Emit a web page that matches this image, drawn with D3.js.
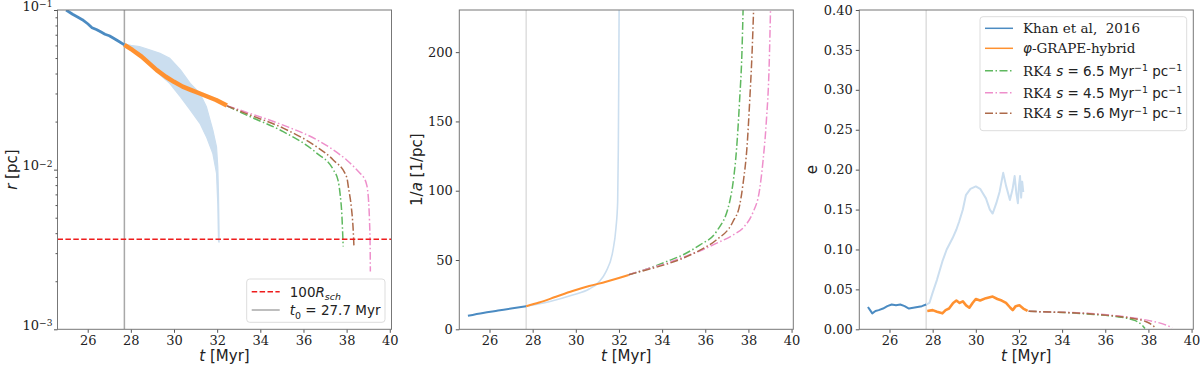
<!DOCTYPE html>
<html>
<head>
<meta charset="utf-8">
<script src="https://cdn.jsdelivr.net/npm/d3@7"></script>
<style>
  body { margin: 0; background: #fff; }
  svg { display: block; }
</style>
</head>
<body>
<svg width="1200" height="370"></svg>
<script>
// time ticks shared by all panels
const tTicks = [26, 28, 30, 32, 34, 36, 38, 40];
const t0 = 27.7;

// ---- panel 1: r [pc] ----
const rKhan = [[25.0,0.100],[25.3,0.094],[25.55,0.090],[25.75,0.087],[26.0,0.082],[26.2,0.0775],[26.4,0.0755],[26.6,0.073],[26.8,0.0705],[27.0,0.069],[27.2,0.0665],[27.45,0.0635],[27.7,0.0605]];
const rKhanBand = [ // t, lower, upper
  [27.7,0.0590,0.0612],[28.0,0.0560,0.0600],[28.4,0.0522,0.0589],[28.9,0.0452,0.0562],[29.35,0.0392,0.0535],
  [29.8,0.0347,0.0498],[30.3,0.0286,0.0421],[30.75,0.0237,0.0347],[31.2,0.0195,0.0301],[31.5,0.0161,0.0248],
  [31.8,0.0126,0.0177],[31.97,0.0095,0.0139],[32.03,0.0060,0.0104],[32.06,0.0036,0.0072],[32.09,0.0035,0.0040]];
const rGrape = [[27.7,0.0605],[28.07,0.0562],[28.5,0.0510],[28.85,0.0463],[29.2,0.0420],[29.62,0.0382],[30.0,0.0355],[30.4,0.0331],[30.8,0.0315],[31.17,0.0301],[31.6,0.0285],[31.95,0.0273],[32.45,0.0252]];
const rRK65 = [[32.45,0.0251],[33.52,0.0215],[35.06,0.0173],[36.61,0.0127],[37.38,0.0100],[37.6,0.0086],[37.7,0.0070],[37.78,0.0052],[37.84,0.0033]];
const rRK56 = [[32.45,0.0251],[33.52,0.0220],[35.06,0.0182],[36.61,0.0139],[37.38,0.0115],[38.0,0.0090],[38.1,0.0075],[38.22,0.0058],[38.3,0.0043],[38.34,0.0033]];
const rRK45 = [[32.45,0.0251],[33.52,0.0225],[35.06,0.0190],[36.61,0.0154],[37.38,0.0133],[38.0,0.0115],[38.62,0.0095],[38.8,0.0089],[38.9,0.0083],[38.97,0.0075],[39.02,0.0063],[39.06,0.0048],[39.09,0.0033],[39.1,0.0023]];
const rSch = 0.00366;
const rTicks = [1e-3, 1e-2, 1e-1];

// ---- panel 2: 1/a [1/pc] ----
const invKhan = [[25.0,9.8],[25.7,11.8],[26.4,13.5],[27.0,15.0],[27.7,16.6]];
const invKhanLight = [[27.7,16.6],[28.76,19.9],[29.85,24.7],[30.62,29.1],[31.09,34.4],[31.4,41.6],[31.71,56],[31.86,72.9],[31.94,92],[31.97,130],[31.99,180],[32.01,240]];
const invGrape = [[27.7,16.6],[28.3,19.3],[29.08,23.5],[29.85,27.6],[30.62,31.2],[31.4,34.3],[32.45,39.2]];
const invRK65 = [[32.45,39.4],[33.3,43.5],[34.19,48.8],[35.0,54],[35.74,60.8],[36.51,70.4],[37.13,92],[37.28,105],[37.45,130],[37.59,165],[37.7,200],[37.76,235]];
const invRK56 = [[32.45,39.4],[33.3,43],[34.19,46.9],[35.0,51.5],[35.74,57],[36.51,64.4],[37.28,77.6],[37.6,90],[37.75,105],[37.95,135],[38.06,165],[38.17,200],[38.25,235]];
const invRK45 = [[32.45,39.4],[33.41,44],[34.19,47.5],[34.96,52],[35.74,56.5],[36.51,62],[37.28,68],[37.8,74],[38.2,84],[38.52,101],[38.68,122],[38.83,150],[38.96,190],[39.03,235]];
const invTicks = [0, 50, 100, 150, 200];

// ---- panel 3: e ----
const eKhan = [[25.0,0.028],[25.1,0.024],[25.2,0.020],[25.35,0.023],[25.5,0.024],[25.7,0.026],[25.9,0.029],[26.1,0.031],[26.3,0.030],[26.5,0.031],[26.7,0.029],[26.9,0.026],[27.1,0.027],[27.3,0.028],[27.5,0.029],[27.7,0.031]];
const eKhanLight = [[27.7,0.031],[27.85,0.033],[28.0,0.046],[28.2,0.062],[28.45,0.085],[28.65,0.100],[28.92,0.114],[29.1,0.125],[29.23,0.135],[29.4,0.150],[29.54,0.168],[29.75,0.176],[30.0,0.179],[30.2,0.176],[30.47,0.164],[30.65,0.150],[30.78,0.145],[30.95,0.158],[31.1,0.172],[31.27,0.196],[31.4,0.180],[31.58,0.162],[31.7,0.175],[31.8,0.192],[31.88,0.170],[31.95,0.158],[32.0,0.180],[32.05,0.192],[32.1,0.165],[32.15,0.185],[32.2,0.172]];
const eGrape = [[27.75,0.023],[28.0,0.024],[28.2,0.022],[28.45,0.020],[28.6,0.024],[28.76,0.026],[28.95,0.033],[29.1,0.036],[29.25,0.033],[29.4,0.035],[29.55,0.030],[29.7,0.027],[29.85,0.033],[30.0,0.038],[30.2,0.036],[30.47,0.039],[30.78,0.041],[31.0,0.038],[31.2,0.036],[31.4,0.033],[31.6,0.027],[31.71,0.024],[31.85,0.029],[32.02,0.030],[32.2,0.026],[32.4,0.023]];
const eRK65 = [[32.45,0.0225],[33.5,0.0215],[34.5,0.0205],[35.5,0.0185],[36.5,0.016],[37.2,0.0125],[37.5,0.0095],[37.7,0.0055],[37.84,0.001]];
const eRK56 = [[32.45,0.0225],[33.5,0.0216],[34.5,0.0207],[35.5,0.019],[36.5,0.0165],[37.3,0.0135],[37.9,0.0095],[38.15,0.006],[38.3,0.0025]];
const eRK45 = [[32.45,0.0225],[33.5,0.0217],[34.5,0.0209],[35.5,0.0195],[36.5,0.017],[37.5,0.0135],[38.2,0.010],[38.7,0.0065],[39.1,0.002]];
const eTicks = [0, 0.05, 0.10, 0.15, 0.20, 0.25, 0.30, 0.35, 0.40];

const C = {
  khan: "#4b8bc2", light: "#cbdeef", grape: "#ff9130",
  g: "#5fb85f", p: "#ee8fcb", b: "#ad6a4a", red: "#ee1c1c"
};
const dashDot = "8,2.5,1.5,2.5";
const SERIF = "DejaVu Serif", SANS = "DejaVu Sans";

const svg = d3.select("svg");
const W = 334, TOP = 10, H = 319.3;
const tDomain = [24.6, 40.08];

// draws text made of parts (italic, sup, sub, font)
function rich(sel, parts, supShift = 4.5) {
  let shift = 0;
  sel.attr("xml:space", "preserve").style("white-space", "pre");
  parts.forEach(p => {
    const s = p.sup ? -supShift : (p.sub ? 3.5 : 0);
    const ts = sel.append("tspan").text(p.t).attr("dy", s - shift);
    shift = s;
    ts.attr("font-family", p.f || SANS);
    if (p.i) ts.attr("font-style", "italic");
    if (p.sup || p.sub) ts.attr("font-size", "0.7em");
  });
}

function makePanel(left, id, y) {
  const g = svg.append("g").attr("transform", `translate(${left},${TOP})`);
  const x = d3.scaleLinear().domain(tDomain).range([0, W]);
  g.append("clipPath").attr("id", id).append("rect").attr("width", W).attr("height", H);
  const plot = g.append("g").attr("clip-path", `url(#${id})`);

  const xa = g.append("g").attr("transform", `translate(0,${H})`)
    .call(d3.axisBottom(x).tickValues(tTicks).tickSize(3.5).tickPadding(3).tickFormat(d3.format("d")));
  xa.select(".domain").remove();
  xa.selectAll("text").attr("font-family", SERIF).attr("font-size", 13).attr("fill", "#222");
  xa.selectAll("line").attr("stroke", "#555");

  g.append("rect").attr("width", W).attr("height", H)
    .attr("fill", "none").attr("stroke", "#777").attr("stroke-width", 1);

  const line = d3.line().x(d => x(d[0])).y(d => y(d[1]));
  const smooth = d3.line().curve(d3.curveMonotoneX).x(d => x(d[0])).y(d => y(d[1]));
  return { g, plot, x, line, smooth };
}

function series(P, data, color, width, dash, smooth) {
  P.plot.append("path").datum(data).attr("d", smooth ? P.smooth : P.line)
    .attr("fill", "none").attr("stroke", color).attr("stroke-width", width)
    .attr("stroke-linejoin", "round")
    .attr("stroke-dasharray", dash || null);
}

function vline(P, color) {
  P.plot.append("line").attr("x1", P.x(t0)).attr("x2", P.x(t0))
    .attr("y1", 0).attr("y2", H).attr("stroke", color).attr("stroke-width", 1.5);
}

function xLabel(P) {
  const t = P.g.append("text").attr("x", W / 2).attr("y", H + 32)
    .attr("text-anchor", "middle").attr("font-size", 15).attr("fill", "#222");
  rich(t, [{ t: "t", i: true }, { t: " [Myr]" }]);
}

function yLabel(P, dx, parts) {
  const t = P.g.append("text").attr("transform", `translate(${dx},${H / 2}) rotate(-90)`)
    .attr("text-anchor", "middle").attr("font-size", 15).attr("fill", "#222");
  rich(t, parts);
}

// ===== panel 1 =====
const y1 = d3.scaleLog().domain([1e-3, 1e-1]).range([H, 0]);
const P1 = makePanel(57.5, "c1", y1);
vline(P1, "#a8a8a8");
P1.plot.append("path").datum(rKhanBand)
  .attr("d", d3.area().x(d => P1.x(d[0])).y0(d => y1(d[1])).y1(d => y1(d[2])))
  .attr("fill", C.light).attr("stroke", C.light).attr("stroke-width", 1.2);
series(P1, rKhan, C.khan, 2.8);
series(P1, rGrape, C.grape, 4.5);
series(P1, rRK65, C.g, 1.5, dashDot, true);
series(P1, rRK45, C.p, 1.5, dashDot, true);
series(P1, rRK56, C.b, 1.5, dashDot, true);
P1.plot.append("line").attr("x1", 0).attr("x2", W).attr("y1", y1(rSch)).attr("y2", y1(rSch))
  .attr("stroke", C.red).attr("stroke-width", 1.5).attr("stroke-dasharray", "5.5,2.4");

const ya1 = P1.g.append("g").call(d3.axisLeft(y1).tickValues(rTicks).tickSize(3.5).tickPadding(3).tickFormat(""));
ya1.select(".domain").remove();
ya1.selectAll("line").attr("stroke", "#555");
ya1.selectAll(".tick").each(function (d) {
  const t = d3.select(this).append("text").attr("x", -5).attr("dy", "0.42em")
    .attr("text-anchor", "end").attr("font-size", 13).attr("fill", "#222");
  rich(t, [{ t: "10", f: SERIF }, { t: "\u2212" + Math.round(-Math.log10(d)), sup: true, f: SERIF }], 3.5);
});
const minors = [];
[1e-3, 1e-2].forEach(b => { for (let k = 2; k <= 9; k++) minors.push(b * k); });
const ym1 = P1.g.append("g").call(d3.axisLeft(y1).tickValues(minors).tickSize(2).tickFormat(""));
ym1.select(".domain").remove();
ym1.selectAll("line").attr("stroke", "#555");
xLabel(P1);
yLabel(P1, -40.5, [{ t: "r", i: true }, { t: " [pc]" }]);

// legend panel 1
const L1 = P1.g.append("g").attr("transform", `translate(${246.7 - 57.5},${279 - TOP})`);
L1.append("rect").attr("width", 138.3).attr("height", 43.3).attr("rx", 3)
  .attr("fill", "#fff").attr("fill-opacity", 0.85).attr("stroke", "#ddd");
L1.append("line").attr("x1", 5).attr("x2", 33).attr("y1", 12.7).attr("y2", 12.7)
  .attr("stroke", C.red).attr("stroke-width", 1.5).attr("stroke-dasharray", "5.5,2.4");
L1.append("line").attr("x1", 5).attr("x2", 33).attr("y1", 31).attr("y2", 31)
  .attr("stroke", "#a8a8a8").attr("stroke-width", 1.5);
rich(L1.append("text").attr("x", 43).attr("y", 17.5).attr("font-size", 13.5).attr("fill", "#222"),
  [{ t: "100" }, { t: "R", i: true }, { t: "sch", i: true, sub: true }]);
rich(L1.append("text").attr("x", 43).attr("y", 36).attr("font-size", 13.5).attr("fill", "#222"),
  [{ t: "t", i: true }, { t: "0", sub: true }, { t: " = 27.7 Myr" }]);

// ===== panel 2 =====
const y2 = d3.scaleLinear().domain([0, 230.4]).range([H, 0]);
const P2 = makePanel(459.3, "c2", y2);
vline(P2, "#dedede");
series(P2, invKhanLight, C.light, 1.6, null, true);
series(P2, invKhan, C.khan, 2, null, true);
series(P2, invGrape, C.grape, 2, null, true);
series(P2, invRK65, C.g, 1.5, dashDot, true);
series(P2, invRK45, C.p, 1.5, dashDot, true);
series(P2, invRK56, C.b, 1.5, dashDot, true);
const ya2 = P2.g.append("g").call(d3.axisLeft(y2).tickValues(invTicks).tickSize(3.5).tickPadding(3).tickFormat(d3.format("d")));
ya2.select(".domain").remove();
ya2.selectAll("line").attr("stroke", "#555");
ya2.selectAll("text").attr("font-family", SERIF).attr("font-size", 13).attr("fill", "#222");
xLabel(P2);
yLabel(P2, -37, [{ t: "1/" }, { t: "a", i: true }, { t: " [1/pc]" }]);

// ===== panel 3 =====
const y3 = d3.scaleLinear().domain([0, 0.4]).range([H, 0]);
const P3 = makePanel(859.3, "c3", y3);
vline(P3, "#dedede");
series(P3, eKhanLight, C.light, 2);
series(P3, eKhan, C.khan, 2);
series(P3, eGrape, C.grape, 2.6);
series(P3, eRK65, C.g, 1.5, dashDot, true);
series(P3, eRK45, C.p, 1.5, dashDot, true);
series(P3, eRK56, C.b, 1.5, dashDot, true);
const ya3 = P3.g.append("g").call(d3.axisLeft(y3).tickValues(eTicks).tickSize(3.5).tickPadding(3).tickFormat(d3.format(".2f")));
ya3.select(".domain").remove();
ya3.selectAll("line").attr("stroke", "#555");
ya3.selectAll("text").attr("font-family", SERIF).attr("font-size", 13).attr("fill", "#222");
xLabel(P3);
yLabel(P3, -42, [{ t: "e" }]);

// legend panel 3
const legendItems = [
  { c: C.khan, dash: null, parts: [{ t: "Khan et al,\u00a0 2016", f: SERIF }] },
  { c: C.grape, dash: null, parts: [{ t: "\u03c6", i: true }, { t: "-GRAPE-hybrid", f: SERIF }] },
  { c: C.g, dash: dashDot, parts: [{ t: "RK4 ", f: SERIF }, { t: "s", i: true }, { t: " = 6.5 Myr" }, { t: "\u22121", sup: true }, { t: " pc" }, { t: "\u22121", sup: true }] },
  { c: C.p, dash: dashDot, parts: [{ t: "RK4 ", f: SERIF }, { t: "s", i: true }, { t: " = 4.5 Myr" }, { t: "\u22121", sup: true }, { t: " pc" }, { t: "\u22121", sup: true }] },
  { c: C.b, dash: dashDot, parts: [{ t: "RK4 ", f: SERIF }, { t: "s", i: true }, { t: " = 5.6 Myr" }, { t: "\u22121", sup: true }, { t: " pc" }, { t: "\u22121", sup: true }] }
];
const legendY = [28.3, 48.3, 70.7, 92.7, 113.3];
const L3 = P3.g.append("g").attr("transform", `translate(${980 - 859.3},0)`);
L3.append("rect").attr("y", 16.7 - TOP).attr("width", 206.7).attr("height", 114).attr("rx", 3)
  .attr("fill", "#fff").attr("fill-opacity", 0.85).attr("stroke", "#ddd");
legendItems.forEach((it, i) => {
  const yy = legendY[i] - TOP;
  L3.append("line").attr("x1", 5).attr("x2", 33).attr("y1", yy).attr("y2", yy)
    .attr("stroke", it.c).attr("stroke-width", 1.5).attr("stroke-dasharray", it.dash);
  rich(L3.append("text").attr("x", 43).attr("y", yy + 4.8).attr("font-size", 13.5).attr("fill", "#222"), it.parts);
});
</script>
</body>
</html>
